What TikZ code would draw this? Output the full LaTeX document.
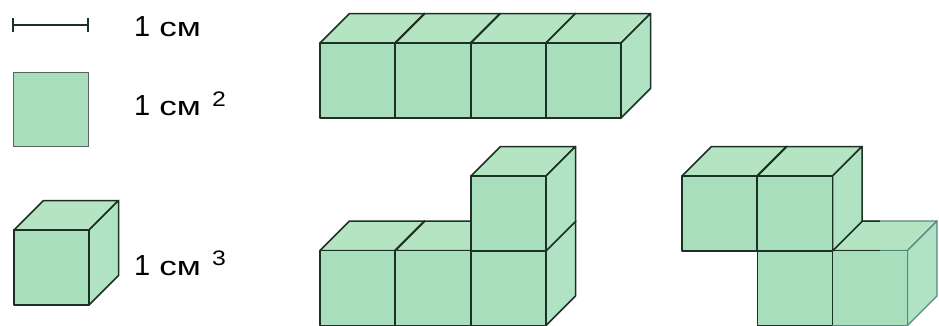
\documentclass[tikz,border=0pt]{standalone}
\usepackage{fontspec}
\setmainfont{Liberation Sans}
\newfontfamily\widefont[FakeStretch=1.32]{Liberation Sans}
\newfontfamily\powfont[FakeStretch=1.18]{Liberation Sans}
\usepackage{xcolor}
\usetikzlibrary{positioning}
\definecolor{ink}{RGB}{28,48,38}
\definecolor{inkSoft}{RGB}{88,135,130}
\definecolor{faceFront}{RGB}{168,222,188}
\definecolor{faceTop}{RGB}{180,228,194}
\definecolor{faceSide}{RGB}{176,226,196}
\tikzset{
  edge/.style={draw=ink,line width=1.5pt,line join=round},
  edgeSoft/.style={draw=inkSoft,line width=1.2pt,line join=round},
  unit/.style={inner sep=0pt,anchor=base west,font=\fontsize{29}{30}\selectfont},
  power/.style={inner sep=0pt,anchor=base west,font=\fontsize{21}{22}\powfont},
}
% one cube, (#2,#3) is the upper left corner of its front face
\newcommand{\cube}[3][edge]{
  \draw[#1,fill=faceTop] (#2,#3) -- ++(29.5,-29.5) -- ++(75,0) -- ++(-29.5,29.5) -- cycle;
  \draw[#1,fill=faceSide] (#2+75,#3) -- ++(29.5,-29.5) -- ++(0,75) -- ++(-29.5,29.5) -- cycle;
  \draw[#1,fill=faceFront] (#2,#3) rectangle ++(75,75);
}
\newcommand{\cm}{1\hspace{9pt}{\fontsize{26.5}{30}\widefont см}}
\begin{document}
\begin{tikzpicture}[x=1pt,y=-1pt]
  \useasboundingbox (0,0) rectangle (939,325);
  \clip (0,0) rectangle (939,325);
  % legend
  \coordinate (rulerL) at (13,25);
  \coordinate (rulerR) at (88,25);
  \draw[edge] (rulerL) -- (rulerR);
  \draw[edge] (13,18) -- (13,32);
  \draw[edge] (88,18) -- (88,32);
  \draw[draw=ink!75,line width=1pt,fill=faceFront] (13.5,72) rectangle (88,146);
  \cube{14}{230}
  \node[unit] (len) at (134,36) {\cm};
  \node[unit] (area) at (134,115) {\cm};
  \node[power] (areaPow) at (212,106) {2};
  \node[unit] (vol) at (134,275) {\cm};
  \node[power] (volPow) at (212,265) {3};
  % row of four
  \foreach \x in {320,395.5,471,546}{
    \cube{\x}{43}
  }
  % L shape
  \foreach \x in {320,395.5,471}{
    \cube{\x}{250.5}
  }
  \cube{471}{176}
  % step shape
  \cube{757.5}{250.5}
  \cube[edgeSoft]{832.5}{250.5}
  \draw[edge] (832.5,250.5) -- (832.5,325);
  \draw[edge] (832.5,250.5) -- (880,250.5);
  \draw[edge] (832.5,250.5) -- (862,221) -- (880,221);
  \cube{682}{176}
  \cube{757.5}{176}
\end{tikzpicture}
\end{document}
